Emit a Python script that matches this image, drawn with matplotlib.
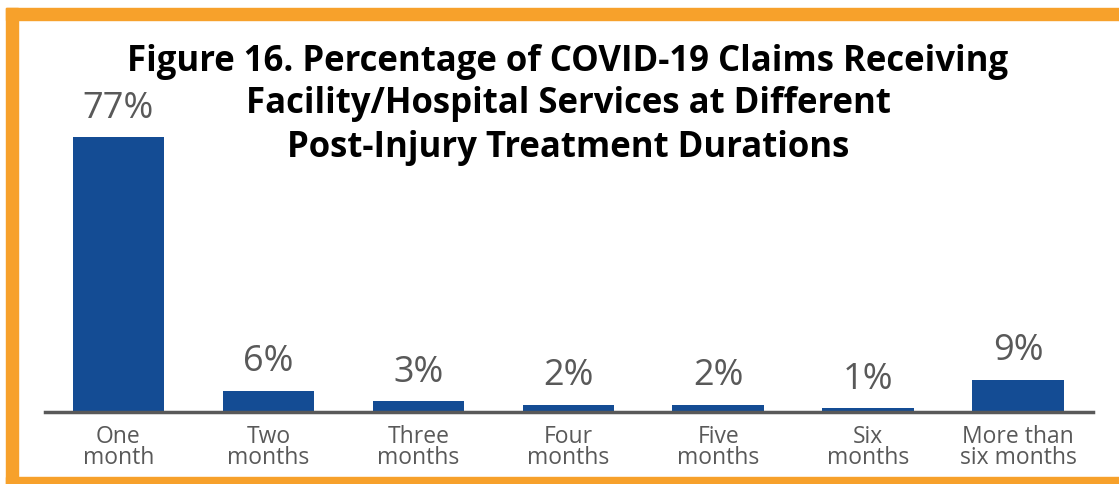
import matplotlib.pyplot as plt
from matplotlib.patches import Rectangle

categories = ['One\nmonth', 'Two\nmonths', 'Three\nmonths', 'Four\nmonths',
              'Five\nmonths', 'Six\nmonths', 'More than\nsix months']
values = [77, 6, 3, 2, 2, 1, 9]
value_labels = ['77%', '6%', '3%', '2%', '2%', '1%', '9%']

title_lines = ['Figure 16. Percentage of COVID-19 Claims Receiving',
               'Facility/Hospital Services at Different',
               'Post-Injury Treatment Durations']

plt.rcParams['font.family'] = ['Open Sans', 'DejaVu Sans']

W, H = 1119, 485
fig = plt.figure(figsize=(W / 100, H / 100), dpi=100)
fig.patch.set_facecolor('white')

# orange frame (no right edge, it is cropped off)
orange = '#F7A12B'
fig.patches.append(Rectangle((6 / W, 0), 12 / W, 476 / H, transform=fig.transFigure,
                             color=orange, zorder=0))
fig.patches.append(Rectangle((6 / W, 464 / H), 1 - 6 / W, 12 / H, transform=fig.transFigure,
                             color=orange, zorder=0))
fig.patches.append(Rectangle((6 / W, 0), 1 - 6 / W, 7 / H, transform=fig.transFigure,
                             color=orange, zorder=0))

ax = fig.add_axes([45 / W, 72 / H, 1048 / W, 313 / H])
x = list(range(len(values)))
ax.bar(x, values, width=0.61, color='#144C94')
ax.set_xlim(-0.49, 6.5)
ax.set_ylim(0, 313 / 3.57)

for i, (v, lab) in enumerate(zip(values, value_labels)):
    ax.text(i, v + 3.2, lab, ha='center', va='bottom', fontsize=26, color='#595959')

ax.set_xticks(x)
ax.set_xticklabels(categories, fontsize=16.5, color='#595959', linespacing=0.8)
ax.tick_params(axis='x', length=0, pad=9)
ax.set_yticks([])
for s in ['top', 'right', 'left']:
    ax.spines[s].set_visible(False)
ax.spines['bottom'].set_color('#595959')
ax.spines['bottom'].set_linewidth(2.5)
ax.patch.set_alpha(0)

# title as three separate lines so each line keeps its own width
title_y = [62, 104, 148]
for line, ty in zip(title_lines, title_y):
    fig.text(568 / W, 1 - ty / H, line, ha='center', va='center',
             fontsize=25, fontweight='bold', color='black')

fig.savefig('out.png', dpi=100)
